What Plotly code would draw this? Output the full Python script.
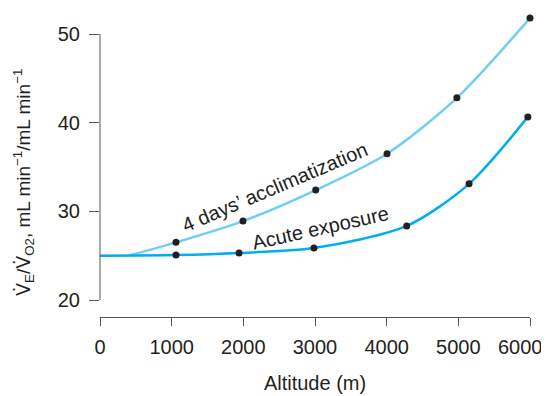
import plotly.graph_objects as go

# altitude (m) and VE/VO2
acute_curve_x = [0, 1060, 1940, 2985, 4280, 5150, 5970]
acute_curve_y = [25.0, 25.07, 25.3, 25.86, 28.35, 33.1, 40.65]
acute_dots_x = [1060, 1940, 2985, 4280, 5150, 5970]
acute_dots_y = [25.07, 25.3, 25.86, 28.35, 33.1, 40.65]

accl_curve_x = [420, 1060, 1995, 3010, 4005, 4980, 6000]
accl_curve_y = [25.05, 26.5, 28.9, 32.4, 36.5, 42.8, 51.8]
accl_dots_x = [1060, 1995, 3010, 4005, 4980, 6000]
accl_dots_y = [26.5, 28.9, 32.4, 36.5, 42.8, 51.8]

x_ticks = [0, 1000, 2000, 3000, 4000, 5000, 6000]
x_tick_labels = ["0", "1000", "2000", "3000", "4000", "5000", "6000"]
y_ticks = [20, 30, 40, 50]

TEXT = "#231f20"
AXIS = "#555555"
FONT = "Liberation Sans, Arial, sans-serif"

# page body adds an 8px offset, so the figure is drawn 8px smaller
W, H = 541, 388
L, R, T = 92, 19, 4
Y20, Y50, XAXIS = 292, 26, 309  # pixel rows of y=20, y=50 and the x axis line
ppu = (Y20 - Y50) / 30.0
y_top = 50 + (Y50 - T) / ppu
plot_h = XAXIS - T
dom_lo = (XAXIS - Y20) / plot_h

fig = go.Figure()
fig.add_trace(go.Scatter(x=accl_curve_x, y=accl_curve_y, mode="lines",
                         line=dict(color="#6dcff6", width=2.5, shape="spline", smoothing=0.8)))
fig.add_trace(go.Scatter(x=acute_curve_x, y=acute_curve_y, mode="lines",
                         line=dict(color="#00aeef", width=2.5, shape="spline", smoothing=0.8)))
fig.add_trace(go.Scatter(x=accl_dots_x, y=accl_dots_y, mode="markers", cliponaxis=False,
                         marker=dict(color=TEXT, size=7)))
fig.add_trace(go.Scatter(x=acute_dots_x, y=acute_dots_y, mode="markers", cliponaxis=False,
                         marker=dict(color=TEXT, size=7)))

# y axis line only runs from 20 to 50
fig.add_shape(type="line", xref="paper", yref="y", x0=0, x1=0, y0=y_ticks[0], y1=y_ticks[-1],
              line=dict(color=AXIS, width=1))

# last x label sits a bit left of its tick in the original so it fits the page
fig.add_annotation(x=x_ticks[-1], xref="x", yref="paper", y=0, yanchor="middle",
                   xshift=-10, yshift=-30, text=x_tick_labels[-1], showarrow=False,
                   font=dict(size=20, color=TEXT, family=FONT))

fig.add_annotation(x=2440, y=32.75, text="4 days\u2019 acclimatization", showarrow=False,
                   textangle=-23, font=dict(size=20, color=TEXT, family=FONT))
fig.add_annotation(x=3070, y=28.1, text="Acute exposure", showarrow=False,
                   textangle=-12.5, font=dict(size=20, color=TEXT, family=FONT))
fig.add_annotation(xref="paper", yref="y", x=(16 - L) / (W - L - R), y=33.2,
                   xanchor="center", yanchor="middle",
                   text="<span style='font-family:DejaVu Sans'>V\u0307</span><sub>E</sub>/"
                        "<span style='font-family:DejaVu Sans'>V\u0307</span><sub>O2</sub>, "
                        "mL min<sup>\u22121</sup>/mL min<sup>\u22121</sup>",
                   showarrow=False, textangle=-90, font=dict(size=19, color=TEXT, family=FONT))

fig.update_layout(
    width=W, height=H,
    margin=dict(l=L, r=R, t=T, b=H - XAXIS),
    plot_bgcolor="white", paper_bgcolor="white",
    showlegend=False,
    font=dict(family=FONT, color=TEXT, size=20),
    xaxis=dict(range=[0, 6000], tickvals=x_ticks, ticktext=x_tick_labels[:-1] + [""],
               showgrid=False, zeroline=False,
               showline=True, linecolor=AXIS, linewidth=1,
               ticks="outside", ticklen=8, tickcolor=AXIS, ticklabelstandoff=4,
               anchor="free", position=0, automargin=False,
               title=dict(text="Altitude (m)", font=dict(size=20), standoff=18)),
    yaxis=dict(range=[20, y_top], tickvals=y_ticks, domain=[dom_lo, 1], showgrid=False,
               zeroline=False, showline=False, automargin=False,
               ticks="outside", ticklen=10, tickcolor=AXIS, ticklabelstandoff=5),
)

fig.write_html("out.html")
